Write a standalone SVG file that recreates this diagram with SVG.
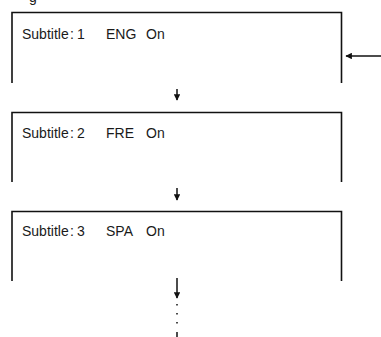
<svg xmlns="http://www.w3.org/2000/svg" width="381" height="337" viewBox="0 0 381 337">
<defs>
<style>
.box{fill:none;stroke:#111;stroke-width:1.6}
.t{font-family:"Liberation Sans",Arial,sans-serif;font-size:14px;fill:#1a1a1a}
.c{fill:none;stroke:#111;stroke-width:1.5}
.d{fill:none;stroke:#111;stroke-width:1.5;stroke-dasharray:1.5 7.5}
</style>
<marker id="ah" viewBox="0 0 10 10" refX="9" refY="5" markerWidth="6.5" markerHeight="6.5" orient="auto" markerUnits="userSpaceOnUse">
<path d="M0,0 L10,5 L0,10 z" fill="#111"/>
</marker>
</defs>
<text class="t" x="29" y="2">g</text>
<g id="node1">
<path class="box" d="M12,83 V12.5 H341.5 V83"/>
<text class="t" y="39"><tspan x="22">Subtitle</tspan><tspan x="70">:</tspan><tspan x="77">1</tspan><tspan x="106">ENG</tspan><tspan x="146">On</tspan></text>
</g>
<g id="node2">
<path class="box" d="M12,182 V112.5 H341.5 V182"/>
<text class="t" y="138"><tspan x="22">Subtitle</tspan><tspan x="70">:</tspan><tspan x="77">2</tspan><tspan x="106">FRE</tspan><tspan x="146">On</tspan></text>
</g>
<g id="node3">
<path class="box" d="M12,281 V211.5 H341.5 V281"/>
<text class="t" y="236"><tspan x="22">Subtitle</tspan><tspan x="70">:</tspan><tspan x="77">3</tspan><tspan x="106">SPA</tspan><tspan x="146">On</tspan></text>
</g>
<g id="connectors">
<path class="c" d="M381,56 H346" marker-end="url(#ah)"/>
<path class="c" d="M177,89 V100" marker-end="url(#ah)"/>
<path class="c" d="M177,188 V200" marker-end="url(#ah)"/>
<path class="c" d="M177,278 V298" marker-end="url(#ah)"/>
<path class="d" d="M177,304 V330"/>
<path class="c" d="M177,332 V337"/>
</g>
</svg>
